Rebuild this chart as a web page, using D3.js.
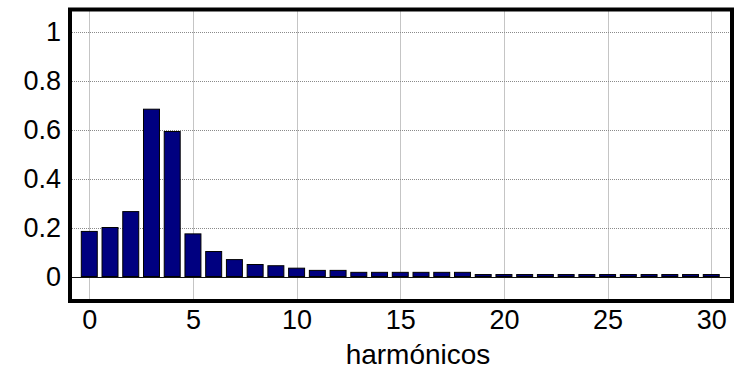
<!DOCTYPE html>
<html>
<head>
<meta charset="utf-8">
<script src="https://cdn.jsdelivr.net/npm/d3@7"></script>
<style>
  html, body { margin: 0; padding: 0; background: #fff; }
  svg { display: block; }
  text { font-family: "Liberation Sans", Arial, sans-serif; fill: #000; }
</style>
</head>
<body>
<svg id="chart" width="734" height="371"></svg>
<script>
// Data
const harmonics = d3.range(0, 31);
const amplitudes = [
  0.184, 0.200, 0.265, 0.683, 0.592, 0.174, 0.102, 0.069, 0.049, 0.044,
  0.034, 0.025, 0.025, 0.017, 0.017, 0.017, 0.017, 0.017, 0.017,
  0.008, 0.008, 0.008, 0.008, 0.008, 0.008, 0.008, 0.008, 0.008, 0.008, 0.008, 0.008
];
const xTicks = [0, 5, 10, 15, 20, 25, 30];
const yTicks = [0, 0.2, 0.4, 0.6, 0.8, 1];
const yTickLabels = ["0", "0.2", "0.4", "0.6", "0.8", "1"];
const xLabel = "harmónicos";

const W = 734, H = 371;
const frame = { left: 70, top: 9.5, right: 732, bottom: 301 };

const x = d3.scaleLinear().domain([-0.93, 31.0]).range([frame.left, frame.right]);
const y = d3.scaleLinear().domain([-0.1, 1.09]).range([frame.bottom, frame.top]);

const svg = d3.select("#chart");

svg.append("defs").append("clipPath").attr("id", "clip")
  .append("rect")
  .attr("x", frame.left).attr("y", frame.top)
  .attr("width", frame.right - frame.left).attr("height", frame.bottom - frame.top);

const plot = svg.append("g").attr("clip-path", "url(#clip)");

// Grid
plot.append("g").selectAll("line.v").data(xTicks).join("line")
  .attr("x1", d => Math.round(x(d)) + 0.5).attr("x2", d => Math.round(x(d)) + 0.5)
  .attr("y1", frame.top).attr("y2", frame.bottom)
  .attr("stroke", "#8a8a8a").attr("stroke-width", 1).attr("stroke-dasharray", "1,1");
plot.append("g").selectAll("line.h").data(yTicks.filter(d => d !== 0)).join("line")
  .attr("y1", d => Math.round(y(d)) + 0.5).attr("y2", d => Math.round(y(d)) + 0.5)
  .attr("x1", frame.left).attr("x2", frame.right)
  .attr("stroke", "#8a8a8a").attr("stroke-width", 1).attr("stroke-dasharray", "1,1");

// Bars
const bw = 0.77;
plot.append("g").selectAll("rect").data(harmonics).join("rect")
  .attr("x", d => x(d - bw / 2))
  .attr("width", x(bw) - x(0))
  .attr("y", (d, i) => y(amplitudes[i]))
  .attr("height", (d, i) => y(0) - y(amplitudes[i]))
  .attr("fill", "#000080")
  .attr("stroke", "#000")
  .attr("stroke-width", 1);

// Zero line
plot.append("line")
  .attr("x1", frame.left).attr("x2", frame.right)
  .attr("y1", Math.round(y(0)) + 0.5).attr("y2", Math.round(y(0)) + 0.5)
  .attr("stroke", "#111").attr("stroke-width", 1.2);

// Frame
svg.append("rect")
  .attr("x", frame.left).attr("y", frame.top)
  .attr("width", frame.right - frame.left).attr("height", frame.bottom - frame.top)
  .attr("fill", "none").attr("stroke", "#000").attr("stroke-width", 4);

// Y axis labels
const yAxis = d3.axisLeft(y).tickValues(yTicks).tickSize(0).tickPadding(0)
  .tickFormat((d, i) => yTickLabels[i]);
const gy = svg.append("g").attr("transform", "translate(61,0)").call(yAxis);
gy.select(".domain").remove();
gy.selectAll("text").attr("font-size", 27).attr("font-family", "Liberation Sans, Arial, sans-serif").attr("fill", "#000");

// X axis labels
const xAxis = d3.axisBottom(x).tickValues(xTicks).tickSize(0).tickPadding(0)
  .tickFormat(d3.format("d"));
const gx = svg.append("g").attr("transform", "translate(0,310)").call(xAxis);
gx.select(".domain").remove();
gx.selectAll("text").attr("font-size", 27).attr("font-family", "Liberation Sans, Arial, sans-serif").attr("fill", "#000");

// X label
svg.append("text")
  .attr("x", 418).attr("y", 364)
  .attr("text-anchor", "middle")
  .attr("font-size", 28)
  .text(xLabel);
</script>
</body>
</html>
